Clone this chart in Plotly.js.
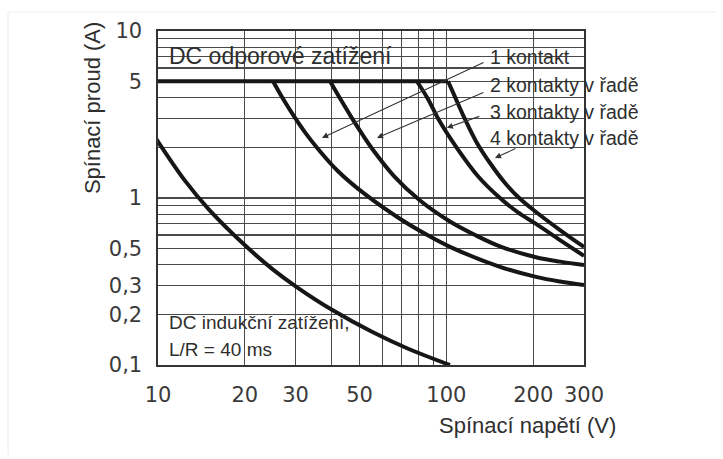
<!DOCTYPE html>
<html>
<head>
<meta charset="utf-8">
<script src="https://cdn.plot.ly/plotly-3.0.1.min.js"></script>
<style>html,body{margin:0;padding:0;background:#fff;}#chart{width:723px;height:459px;}</style>
</head>
<body>
<div id="chart"></div>
<script>
// ---- data ----
const xGrid = [10, 20, 30, 40, 50, 60, 70, 80, 90, 100, 200, 300];
const xLabels = ['10', '20', '30', '', '50', '', '', '', '', '100', '200', '300'];
const yGrid = [0.1, 0.2, 0.3, 0.4, 0.5, 0.6, 0.7, 0.8, 0.9, 1, 2, 3, 4, 5, 6, 7, 8, 9, 10];
const yLabels = ['0,1', '0,2', '0,3', '', '0,5', '', '', '', '', '1', '', '', '', '5', '', '', '', '', '10'];

// DC resistive load: common 5 A limit
const limitV = [10, 101.3];
const limitI = [5, 5];
// 1 kontakt
const c1V = [25.05, 27.1, 29.6, 32.3, 35.6, 42.1, 52.2, 69.0, 85.0, 102.9, 153.4, 204.5, 247.7, 300];
const c1I = [5.0, 3.94, 3.09, 2.48, 2.0, 1.447, 1.054, 0.751, 0.606, 0.51, 0.387, 0.337, 0.316, 0.301];
// 2 kontakty v řadě
const c2V = [39.5, 42.8, 47.1, 51.0, 55.2, 65.8, 81.0, 102.9, 125.7, 153.4, 204.5, 247.7, 300];
const c2I = [5.0, 3.94, 3.0, 2.42, 1.98, 1.354, 0.966, 0.723, 0.60, 0.513, 0.442, 0.416, 0.397];
// 3 kontakty v řadě
const c3V = [79.0, 86.3, 94.2, 108.8, 128.7, 153.4, 177.1, 204.5, 247.7, 300];
const c3I = [5.0, 3.92, 2.93, 1.99, 1.35, 1.0, 0.82, 0.70, 0.56, 0.45];
// 4 kontakty v řadě
const c4V = [101.3, 107.1, 115.1, 126.6, 141.6, 159.7, 180.0, 204.5, 247.7, 300];
const c4I = [5.0, 4.03, 3.05, 2.19, 1.62, 1.23, 0.99, 0.825, 0.643, 0.509];
// DC inductive load, L/R = 40 ms
const indV = [9.76, 12.4, 15.0, 20.2, 25.0, 30.1, 40.1, 55.2, 73.0, 102.9];
const indI = [2.32, 1.27, 0.856, 0.514, 0.374, 0.295, 0.214, 0.158, 0.126, 0.100];

const lineStyle = {color: '#161616', width: 4};
function curve(x, y, shape) {
  return {x: x, y: y, type: 'scatter', mode: 'lines',
          line: Object.assign({shape: shape || 'spline', smoothing: 1}, lineStyle),
          hoverinfo: 'skip', showlegend: false};
}
const traces = [
  curve(limitV, limitI, 'linear'),
  curve(c1V, c1I), curve(c2V, c2I), curve(c3V, c3I), curve(c4V, c4I),
  curve(indV, indI)
];

const txt = '#2e2e2e';
const labelFont = {family: 'Liberation Sans, Arial, sans-serif', color: txt};
function label(text, x, y, size, anchor) {
  return {xref: 'paper', yref: 'paper', x: x, y: y, text: text, showarrow: false,
          xanchor: anchor || 'left', yanchor: 'middle', align: 'left',
          font: Object.assign({size: size}, labelFont)};
}
function arrow(x, y, ax, ay) {
  return {xref: 'paper', yref: 'paper', x: x, y: y, ax: ax, ay: ay, text: '', showarrow: true,
          arrowhead: 2, arrowsize: 1.1, arrowwidth: 1.1, arrowcolor: '#333'};
}
function whiteBox(x0, x1, y0, y1) {
  return {type: 'rect', xref: 'paper', yref: 'paper', x0: x0, x1: x1, y0: y0, y1: y1,
          fillcolor: '#fff', line: {width: 0}, layer: 'between'};
}

const axisCommon = {
  tickmode: 'array', showgrid: true, gridcolor: '#4a4a4a', gridwidth: 1.25,
  showline: true, mirror: true, linecolor: '#333', linewidth: 1.6,
  ticks: '', ticklabelstandoff: 10,
  tickfont: {family: 'DejaVu Sans, sans-serif', size: 21, color: '#3a3a3a'},
  zeroline: false, fixedrange: true
};

const layout = {
  width: 723, height: 459,
  margin: {l: 158, r: 139, t: 31, b: 94, pad: 0},
  paper_bgcolor: '#fff', plot_bgcolor: '#fff',
  showlegend: false,
  xaxis: Object.assign({type: 'log', range: [1, Math.log10(300)], tickvals: xGrid, ticktext: xLabels}, axisCommon),
  yaxis: Object.assign({type: 'log', range: [-1, 1], tickvals: yGrid, ticktext: yLabels}, axisCommon),
  shapes: [
    whiteBox(0.0094, 0.561, 0.859, 0.985),
    whiteBox(0.763, 0.995, 0.655, 0.973),
    whiteBox(0.0094, 0.44, 0.008, 0.18),
    {type: 'line', xref: 'paper', yref: 'paper', x0: -0.352, x1: 1.31, y0: 1.057, y1: 1.057, line: {color: '#ececec', width: 1}},
    {type: 'line', xref: 'paper', yref: 'paper', x0: -0.352, x1: -0.352, y0: -0.27, y1: 1.057, line: {color: '#ececec', width: 1}}
  ],
  annotations: [
    label('DC odporové zatížení', 0.02, 0.925, 23),
    label('1 kontakt', 0.775, 0.922, 19.5),
    label('2 kontakty v řadě', 0.775, 0.838, 19.5),
    label('3 kontakty v řadě', 0.775, 0.757, 19.5),
    label('4 kontakty v řadě', 0.775, 0.679, 19.5),
    label('DC indukční zatížení,', 0.02, 0.126, 19),
    label('L/R = 40 ms', 0.02, 0.045, 19),
    arrow(0.385, 0.680, 163, -76),
    arrow(0.514, 0.680, 108, -46),
    arrow(0.678, 0.710, 34, -12),
    arrow(0.791, 0.620, 22, -10),
    {xref: 'paper', yref: 'paper', x: 0.655, y: -0.18, text: 'Spínací napětí (V)', showarrow: false,
     xanchor: 'left', yanchor: 'middle', font: Object.assign({size: 22}, labelFont)},
    {xref: 'paper', yref: 'paper', x: -0.155, y: 0.769, text: 'Spínací proud (A)', showarrow: false,
     textangle: -90, xanchor: 'center', yanchor: 'middle', font: Object.assign({size: 22}, labelFont)}
  ]
};

Plotly.newPlot('chart', traces, layout, {displayModeBar: false, staticPlot: true});
</script>
</body>
</html>
